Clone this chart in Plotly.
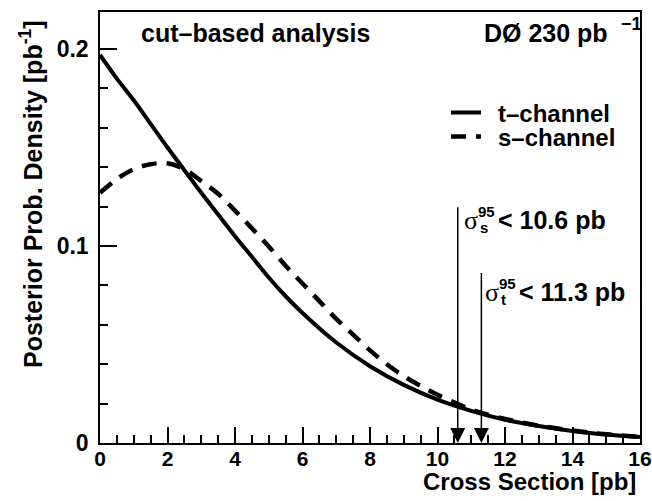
import plotly.graph_objects as go

# posterior densities
x_t = [0, 0.5, 1, 1.5, 2, 2.5, 3, 3.5, 4, 4.5, 5, 5.5, 6, 7, 8, 9, 10, 11, 12, 13, 14, 15, 16]
y_t = [0.197, 0.185, 0.174, 0.162, 0.150, 0.1385, 0.127, 0.116, 0.105, 0.0945, 0.084, 0.0745, 0.066,
       0.051, 0.039, 0.0295, 0.022, 0.0163, 0.0118, 0.0086, 0.0061, 0.0043, 0.003]

x_s = [0, 0.5, 1, 1.5, 2, 2.5, 3, 3.5, 4, 4.5, 5, 5.5, 6, 6.5, 7, 7.5, 8, 8.5, 9, 9.5, 10, 11, 12, 13, 14, 15, 16]
y_s = [0.127, 0.134, 0.139, 0.1415, 0.142, 0.139, 0.133, 0.1265, 0.118, 0.109, 0.0998, 0.090, 0.081,
       0.072, 0.063, 0.055, 0.047, 0.040, 0.034, 0.029, 0.0245, 0.017, 0.0122, 0.0088, 0.0063, 0.0044, 0.0031]

limit_names = ["s", "t"]
limit_values = [10.6, 11.3]
limit_tops = [0.1204, 0.087]

FONT = "Liberation Sans, Arial, Helvetica, sans-serif"
SERIF = "Liberation Serif, Times New Roman, serif"

L, R, T, B = 100, 12, 12, 58
W, H = 652, 501


def px(x):
    return (x - L) / (W - L - R)


def py(y):
    return (H - B - y) / (H - B - T)


fig = go.Figure()
fig.add_trace(go.Scatter(x=x_t, y=y_t, mode="lines", name="\u2002t–channel", legend="legend",
                         line=dict(color="black", width=4, shape="spline")))
fig.add_trace(go.Scatter(x=x_s, y=y_s, mode="lines", name="\u2002s–channel", legend="legend2",
                         line=dict(color="black", width=4.5, dash="15px,10px", shape="spline")))

ann = []
# upper limit arrows and their labels
label_pos = {"s": (462, 220), "t": (483, 292)}
for name, val, top in zip(limit_names, limit_values, limit_tops):
    ann.append(dict(x=val, y=0, ax=val, ay=top, xref="x", yref="y", axref="x", ayref="y",
                    showarrow=True, arrowhead=2, arrowsize=2, arrowwidth=1.5,
                    arrowcolor="black", standoff=0, text=""))
    lx, ly = label_pos[name]
    ann.append(dict(x=px(lx), y=py(ly), xref="paper", yref="paper", xanchor="left", yanchor="middle",
                    text="σ", showarrow=False, font=dict(family=SERIF, size=26, color="black")))
    ann.append(dict(x=px(lx + 14), y=py(ly - 9), xref="paper", yref="paper", xanchor="left",
                    yanchor="middle", text="<b>95</b>", showarrow=False,
                    font=dict(family=FONT, size=15, color="black")))
    ann.append(dict(x=px(lx + 16), y=py(ly + 7), xref="paper", yref="paper", xanchor="left",
                    yanchor="middle", text="<b>%s</b>" % name, showarrow=False,
                    font=dict(family=FONT, size=15, color="black")))
    ann.append(dict(x=px(lx + 34), y=py(ly), xref="paper", yref="paper", xanchor="left",
                    yanchor="middle", text="<b>< %.1f pb</b>" % val, showarrow=False,
                    font=dict(family=FONT, size=25, color="black")))

ann += [
    dict(x=px(139), y=py(33), xref="paper", yref="paper", xanchor="left", yanchor="middle",
         text="<b>cut–based analysis</b>", showarrow=False, font=dict(family=FONT, size=25, color="black")),
    dict(x=px(482), y=py(33), xref="paper", yref="paper", xanchor="left", yanchor="middle",
         text="<b>DØ 230 pb</b>", showarrow=False, font=dict(family=FONT, size=25, color="black")),
    dict(x=px(619), y=py(24), xref="paper", yref="paper", xanchor="left", yanchor="middle",
         text="<b>−1</b>", showarrow=False, font=dict(family=FONT, size=18, color="black")),
    dict(x=px(638), y=py(482), xref="paper", yref="paper", xanchor="right", yanchor="middle",
         text="<b>Cross Section [pb]</b>", showarrow=False, font=dict(family=FONT, size=24, color="black")),
    dict(x=px(31), y=py(194), xref="paper", yref="paper", xanchor="center", yanchor="middle",
         textangle=-90, text="<b>Posterior Prob. Density [pb<sup>-1</sup>]</b>", showarrow=False,
         font=dict(family=FONT, size=25, color="black")),
]

legend_font = dict(family=FONT, size=24, color="black", weight="bold")

fig.update_layout(
    width=W, height=H,
    margin=dict(l=L, r=R, t=T, b=B, autoexpand=False),
    paper_bgcolor="white", plot_bgcolor="white",
    font=dict(family=FONT, color="black"),
    showlegend=True,
    legend=dict(x=px(446), y=py(113), xanchor="left", yanchor="middle", bgcolor="rgba(0,0,0,0)",
                font=legend_font),
    legend2=dict(x=px(446), y=py(137), xanchor="left", yanchor="middle", bgcolor="rgba(0,0,0,0)",
                 font=legend_font),
    annotations=ann,
    xaxis=dict(range=[0, 16], tickvals=[0, 2, 4, 6, 8, 10, 12, 14, 16], ticks="inside", ticklen=16,
               tickwidth=1.5, tickcolor="black", showline=True, linecolor="black", linewidth=2,
               mirror=True, showgrid=False, zeroline=False, automargin=False, ticklabelstandoff=-4,
               ticklabeloverflow="allow",
               tickfont=dict(family=FONT, size=21, color="black", weight="bold"),
               minor=dict(dtick=0.5, ticks="inside", ticklen=8, tickwidth=1.5, tickcolor="black",
                          showgrid=False)),
    yaxis=dict(range=[0, 0.2188], tickvals=[0, 0.1, 0.2], ticktext=["0", "0.1", "0.2"],
               ticks="inside", ticklen=17, tickwidth=1.5, tickcolor="black", showline=True,
               linecolor="black", linewidth=1.5, mirror=True, showgrid=False, zeroline=False,
               automargin=False, ticklabelstandoff=5,
               tickfont=dict(family=FONT, size=23, color="black", weight="bold"),
               minor=dict(dtick=0.02, ticks="inside", ticklen=8, tickwidth=1.5, tickcolor="black",
                          showgrid=False)),
)

fig.write_html("out.html", config={"displayModeBar": False},
               post_script="document.body.style.margin='0';document.body.style.overflow='hidden';")
